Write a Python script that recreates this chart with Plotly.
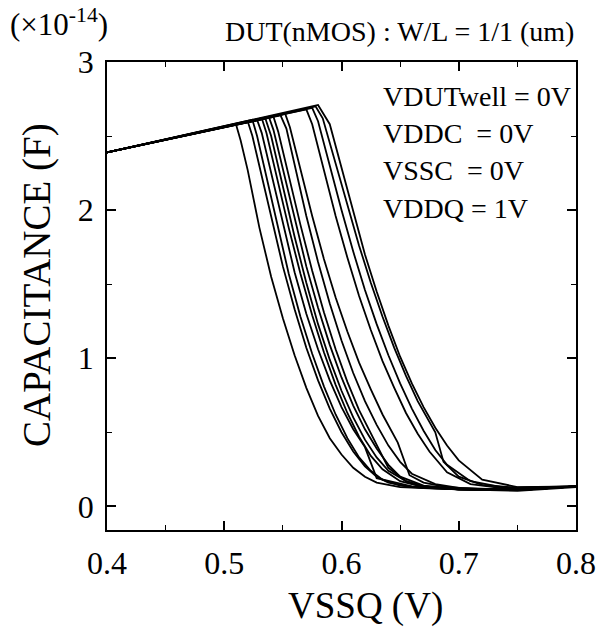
import plotly.graph_objects as go

# ---- data: each curve as VSSQ (V) and capacitance (x1e-14 F) ----
c01_x = [0.40, 0.51, 0.514, 0.52, 0.53, 0.54, 0.55, 0.56, 0.57, 0.58, 0.59, 0.60, 0.61, 0.62, 0.63, 0.65, 0.68, 0.72, 0.76, 0.80]
c01_y = [2.39, 2.58, 2.47, 2.27, 1.88, 1.55, 1.27, 1.02, 0.80, 0.61, 0.46, 0.35, 0.26, 0.20, 0.16, 0.13, 0.12, 0.11, 0.115, 0.135]

c02_x = [0.40, 0.52, 0.524, 0.53, 0.54, 0.55, 0.56, 0.57, 0.58, 0.59, 0.60, 0.61, 0.62, 0.63, 0.64, 0.66, 0.70, 0.74, 0.80]
c02_y = [2.39, 2.60, 2.50, 2.30, 1.95, 1.62, 1.33, 1.07, 0.85, 0.66, 0.50, 0.37, 0.27, 0.20, 0.16, 0.13, 0.115, 0.11, 0.135]

c03_x = [0.40, 0.524, 0.528, 0.535, 0.545, 0.555, 0.565, 0.575, 0.585, 0.595, 0.605, 0.615, 0.625, 0.635, 0.65, 0.67, 0.70, 0.75, 0.80]
c03_y = [2.39, 2.61, 2.50, 2.26, 1.90, 1.57, 1.28, 1.03, 0.81, 0.62, 0.46, 0.33, 0.24, 0.18, 0.14, 0.125, 0.115, 0.11, 0.135]

c04_x = [0.40, 0.528, 0.532, 0.54, 0.55, 0.56, 0.57, 0.58, 0.59, 0.60, 0.61, 0.62, 0.63, 0.645, 0.66, 0.70, 0.75, 0.80]
c04_y = [2.39, 2.61, 2.52, 2.25, 1.90, 1.58, 1.30, 1.06, 0.85, 0.67, 0.52, 0.40, 0.19, 0.16, 0.135, 0.115, 0.11, 0.135]

c05_x = [0.40, 0.532, 0.536, 0.545, 0.555, 0.565, 0.575, 0.585, 0.595, 0.605, 0.615, 0.625, 0.635, 0.65, 0.67, 0.70, 0.75, 0.80]
c05_y = [2.39, 2.62, 2.52, 2.22, 1.88, 1.57, 1.29, 1.04, 0.82, 0.63, 0.47, 0.34, 0.25, 0.17, 0.13, 0.115, 0.11, 0.135]

c06_x = [0.40, 0.535, 0.54, 0.55, 0.56, 0.57, 0.58, 0.59, 0.60, 0.61, 0.62, 0.63, 0.64, 0.655, 0.67, 0.70, 0.75, 0.80]
c06_y = [2.39, 2.62, 2.50, 2.16, 1.82, 1.51, 1.23, 0.99, 0.78, 0.60, 0.45, 0.33, 0.24, 0.17, 0.135, 0.115, 0.105, 0.13]

c07_x = [0.40, 0.538, 0.542, 0.55, 0.56, 0.57, 0.58, 0.59, 0.60, 0.61, 0.62, 0.63, 0.64, 0.65, 0.67, 0.70, 0.75, 0.80]
c07_y = [2.39, 2.63, 2.54, 2.28, 1.94, 1.62, 1.34, 1.09, 0.87, 0.68, 0.52, 0.39, 0.28, 0.20, 0.14, 0.12, 0.11, 0.135]

c08_x = [0.40, 0.542, 0.546, 0.555, 0.565, 0.575, 0.585, 0.595, 0.605, 0.615, 0.63, 0.64, 0.655, 0.67, 0.70, 0.75, 0.80]
c08_y = [2.39, 2.63, 2.53, 2.23, 1.90, 1.59, 1.31, 1.06, 0.84, 0.65, 0.42, 0.26, 0.17, 0.135, 0.115, 0.11, 0.135]

c09_x = [0.40, 0.548, 0.553, 0.56, 0.57, 0.58, 0.59, 0.60, 0.61, 0.62, 0.63, 0.64, 0.65, 0.66, 0.68, 0.70, 0.75, 0.80]
c09_y = [2.39, 2.64, 2.55, 2.30, 1.96, 1.65, 1.37, 1.12, 0.90, 0.71, 0.55, 0.41, 0.30, 0.22, 0.15, 0.125, 0.11, 0.135]

c10_x = [0.40, 0.552, 0.556, 0.565, 0.575, 0.585, 0.595, 0.605, 0.615, 0.625, 0.635, 0.648, 0.658, 0.67, 0.69, 0.72, 0.76, 0.80]
c10_y = [2.39, 2.65, 2.56, 2.28, 1.96, 1.67, 1.41, 1.18, 0.97, 0.79, 0.62, 0.43, 0.21, 0.16, 0.13, 0.115, 0.115, 0.135]

c11_x = [0.40, 0.57, 0.575, 0.585, 0.595, 0.605, 0.615, 0.625, 0.635, 0.645, 0.655, 0.665, 0.675, 0.69, 0.71, 0.74, 0.80]
c11_y = [2.39, 2.68, 2.58, 2.27, 1.96, 1.68, 1.42, 1.19, 0.98, 0.80, 0.63, 0.49, 0.37, 0.23, 0.15, 0.12, 0.135]

c12_x = [0.40, 0.575, 0.58, 0.59, 0.60, 0.61, 0.62, 0.63, 0.64, 0.65, 0.66, 0.67, 0.68, 0.69, 0.71, 0.74, 0.80]
c12_y = [2.39, 2.69, 2.60, 2.30, 2.00, 1.72, 1.46, 1.23, 1.02, 0.83, 0.66, 0.51, 0.38, 0.28, 0.17, 0.125, 0.135]

c13_x = [0.40, 0.578, 0.584, 0.595, 0.605, 0.615, 0.625, 0.635, 0.645, 0.655, 0.665, 0.68, 0.687, 0.70, 0.72, 0.75, 0.80]
c13_y = [2.39, 2.70, 2.62, 2.32, 2.03, 1.76, 1.51, 1.28, 1.07, 0.88, 0.71, 0.50, 0.30, 0.20, 0.145, 0.125, 0.135]

c14_x = [0.40, 0.58, 0.59, 0.60, 0.61, 0.62, 0.63, 0.64, 0.65, 0.66, 0.67, 0.68, 0.69, 0.70, 0.72, 0.75, 0.80]
c14_y = [2.39, 2.71, 2.58, 2.28, 1.98, 1.70, 1.45, 1.22, 1.01, 0.83, 0.67, 0.53, 0.41, 0.31, 0.18, 0.13, 0.135]

x_ticks = [0.4, 0.5, 0.6, 0.7, 0.8]
x_tick_labels = ["0.4", "0.5", "0.6", "0.7", "0.8"]
y_ticks = [0, 1, 2, 3]
y_tick_labels = ["0", "1", "2", "3"]

condition_labels = ["VDUTwell = 0V", "VDDC&nbsp;&nbsp;= 0V", "VSSC&nbsp;&nbsp;= 0V", "VDDQ = 1V"]

curves = [
    (c01_x, c01_y), (c02_x, c02_y), (c03_x, c03_y), (c04_x, c04_y), (c05_x, c05_y),
    (c06_x, c06_y), (c07_x, c07_y), (c08_x, c08_y), (c09_x, c09_y), (c10_x, c10_y),
    (c11_x, c11_y), (c12_x, c12_y), (c13_x, c13_y), (c14_x, c14_y),
]

FONT = "Liberation Serif"

fig = go.Figure()
for cx, cy in curves:
    fig.add_trace(go.Scatter(x=cx, y=cy, mode="lines",
                             line=dict(color="black", width=1.8),
                             showlegend=False, hoverinfo="skip"))

axis_common = dict(
    showgrid=False, zeroline=False, showline=True, linecolor="black", linewidth=1.6,
    mirror="ticks", ticks="inside", ticklen=9, tickwidth=1.6, tickcolor="black",
    tickfont=dict(family=FONT, size=32, color="black"), automargin=False,
)

fig.update_layout(
    width=598, height=628,
    margin=dict(l=107, r=22, t=62, b=98),
    paper_bgcolor="white", plot_bgcolor="white",
    font=dict(family=FONT, color="black"),
    xaxis=dict(range=[0.4, 0.8], tickvals=x_ticks, ticktext=x_tick_labels,
               minor=dict(ticks="inside", dtick=0.05, tick0=0.4, ticklen=5, tickwidth=1.4, tickcolor="black"),
               ticklabelstandoff=4, **axis_common),
    yaxis=dict(range=[-0.16, 3.0], tickvals=y_ticks, ticktext=y_tick_labels,
               minor=dict(ticks="inside", dtick=0.5, tick0=0, ticklen=5, tickwidth=1.4, tickcolor="black"),
               ticklabelstandoff=5, **axis_common),
)

# axis titles
fig.add_annotation(xref="paper", yref="paper", x=(365 - 107) / 469, y=0, yshift=-76,
                   xanchor="center", yanchor="middle", showarrow=False,
                   text="VSSQ (V)", font=dict(family=FONT, size=37, color="black"))
fig.add_annotation(xref="paper", yref="paper", x=(37 - 107) / 469, y=(530 - 285) / 468,
                   xanchor="center", yanchor="middle", showarrow=False, textangle=-90,
                   text="CAPACITANCE (F)", font=dict(family=FONT, size=39, color="black"))

fig.add_annotation(xref="paper", yref="paper", x=(8 - 107) / 469, y=1.0, yshift=40,
                   xanchor="left", yanchor="middle", showarrow=False,
                   text="(×10<sup>-14</sup>)", font=dict(family=FONT, size=31, color="black"))
fig.add_annotation(xref="paper", yref="paper", x=1.0, y=1.0, yshift=31,
                   xanchor="right", yanchor="middle", showarrow=False,
                   text="DUT(nMOS) : W/L = 1/1 (um)", font=dict(family=FONT, size=28, color="black"))

cond_shifts = [-34, -71, -108, -146]
for lbl, ys in zip(condition_labels, cond_shifts):
    fig.add_annotation(xref="paper", yref="paper", x=(381 - 107) / 469, y=1.0, yshift=ys,
                       xanchor="left", yanchor="middle", showarrow=False,
                       text=lbl, font=dict(family=FONT, size=28, color="black"))

# remove the default 8px page margin so the figure sits at the window's top-left corner
fig.write_html("out.html", config={"displayModeBar": False},
               post_script="document.body.style.margin='0px';")
